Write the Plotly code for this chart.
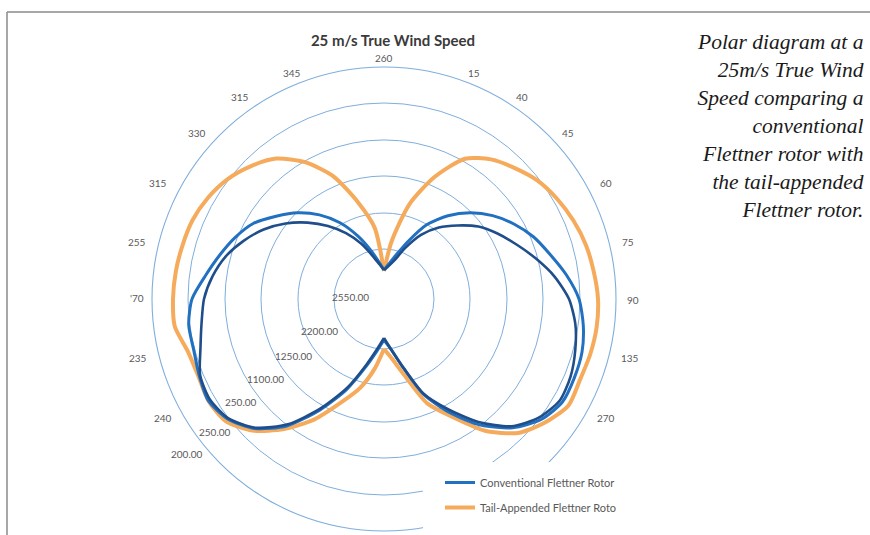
import math
import plotly.graph_objects as go

# ---- data ---------------------------------------------------------------
# compass angle of each sample (degrees, clockwise from north)
theta = [0, 7.5, 15, 22.5, 30, 37.5, 45, 52.5, 60, 67.5, 75, 82.5,
         90, 97.5, 105, 112.5, 120, 127.5, 135, 142.5, 150, 157.5, 165, 172.5,
         180, 187.5, 195, 202.5, 210, 217.5, 225, 232.5, 240, 247.5, 255, 262.5,
         270, 277.5, 285, 292.5, 300, 307.5, 315, 322.5, 330, 337.5, 345, 352.5]

tail_appended = [28, 58, 98, 132, 162, 176, 185, 194, 200, 205, 209, 211.5,
                 214, 214.5, 213.5, 212, 213, 203, 189.5, 166, 136, 113, 79, 60,
                 50, 70, 92, 112, 139, 164, 186, 200, 203, 201, 203, 211,
                 211, 210, 208.5, 207, 203, 197, 188, 177, 158, 133, 100, 72]

conventional = [29, 35, 45, 62, 86, 105, 122, 137, 150, 162, 172, 184,
                195, 201, 205, 206, 206, 198, 182, 159, 131, 103, 69, 50,
                41, 52, 70, 98, 128, 160, 183, 197, 203, 200, 197, 197,
                192, 180, 170, 161, 151, 136, 122, 106, 88, 68, 50, 37]

conventional_b = [29, 33, 40, 55, 74, 90, 104, 119, 131, 143, 157, 172,
                  185, 193, 198, 202, 203, 195, 180, 155, 127, 102, 69, 50,
                  39, 50, 68, 96, 126, 158, 182, 196, 201, 199, 190, 184,
                  180, 173, 164, 152, 139, 124, 108, 92, 76, 60, 45, 35]

grid_rings = [50, 86, 123, 159, 196]
radial_max = 232

radial_labels = ["2550.00", "2200.00", "1250.00", "1100.00", "250.00", "250.00", "200.00"]
angular_labels = ["260", "15", "40", "45", "60", "75", "90", "135", "270",
                  "345", "315", "330", "315", "255", "'70", "235", "240"]

series_names = ["Tail-Appended Flettner Roto", "Conventional Flettner Rotor"]

# label placement around the dial (radius in axis units, compass angle)
radial_label_r = [34, 72, 107, 143, 176, 215, 251]
radial_label_t = [273.4, 243.8, 237.9, 236.1, 234.2, 231.8, 231.8]
angular_label_r = [241, 243, 245, 248, 250.5, 250.5, 249, 253, 252,
                   244, 248, 250, 254, 253.5, 247, 253, 251]
angular_label_t = [0, 21.7, 34.3, 47.9, 62.4, 76.9, 90.2, 103.5, 118.2,
                   337.9, 324.5, 311.6, 297.2, 283.0, 270.2, 256.5, 241.7]


def halves(values):
    """Split a closed curve into its right (0-180) and left (180-360) halves,
    so the two cusps stay sharp when the halves are smoothed."""
    r = list(values) + [values[0]]
    t = list(theta) + [360]
    mid = theta.index(180)
    return (r[:mid + 1] + [None] + r[mid:],
            t[:mid + 1] + [None] + t[mid:])


ORANGE = "#F5AB5B"
BLUE = "#2270C0"
NAVY = "#1F4E8A"
GRID = "#7FAEDC"
LABEL = "#595959"

W, H = 870, 535
cx, cy = 384, 299  # dial centre in pixels

fig = go.Figure()

for vals, name, group, rank, show, color, width in [
    (tail_appended, series_names[0], "tail", 2, True, ORANGE, 4),
    (conventional, series_names[1], "conv", 1, True, BLUE, 3),
    (conventional_b, series_names[1], "conv", 1, False, NAVY, 2.6),
]:
    r, t = halves(vals)
    fig.add_trace(go.Scatterpolar(
        r=r, theta=t, mode="lines", name=name, legendgroup=group,
        legendrank=rank, showlegend=show, connectgaps=False,
        line=dict(color=color, width=width, shape="spline", smoothing=0.7),
        hoverinfo="skip"))


def dial_label(txt, rr, tt):
    # radial axis units map 1:1 to pixels (range 0..232 over a 232 px radius)
    px = cx + rr * math.sin(math.radians(tt))
    py = cy - rr * math.cos(math.radians(tt))
    return dict(text=txt, x=px / W, y=1 - py / H, xref="paper", yref="paper",
                showarrow=False, xanchor="center", yanchor="middle",
                font=dict(family="Lato, sans-serif", size=10, color=LABEL))


annotations = [dial_label(*a) for a in zip(radial_labels, radial_label_r, radial_label_t)]
annotations += [dial_label(*a) for a in zip(angular_labels, angular_label_r, angular_label_t)]

annotations.append(dict(
    text="<i>Polar diagram at a<br>25m/s True Wind<br>Speed comparing a<br>"
         "conventional<br>Flettner rotor with<br>the tail-appended<br>"
         "Flettner rotor.</i>",
    xref="paper", yref="paper", x=866 / W, xanchor="right",
    y=1 - 126 / H, yanchor="middle", align="right", showarrow=False,
    font=dict(family="Liberation Serif, serif", size=21.5, color="#1a1a1a")))

fig.update_layout(
    width=W, height=H,
    margin=dict(l=0, r=0, t=0, b=0),
    paper_bgcolor="white",
    plot_bgcolor="white",
    font=dict(family="Lato, sans-serif", color=LABEL),
    title=dict(text="<b>25 m/s True Wind Speed</b>", x=393 / W, xanchor="center",
               y=1 - 41 / H, yref="container", yanchor="middle",
               font=dict(family="Lato, sans-serif", size=15, color="#3a3a3a")),
    polar=dict(
        domain=dict(x=[(cx - radial_max) / W, (cx + radial_max) / W],
                    y=[1 - (cy + radial_max) / H, 1 - (cy - radial_max) / H]),
        bgcolor="rgba(0,0,0,0)",
        radialaxis=dict(range=[0, radial_max], tickvals=grid_rings,
                        showticklabels=False, ticks="", showline=False,
                        gridcolor=GRID, gridwidth=1.1),
        angularaxis=dict(rotation=90, direction="clockwise", showgrid=False,
                         showticklabels=False, ticks="", showline=True,
                         linecolor=GRID, linewidth=1.1),
    ),
    legend=dict(x=440 / W, xanchor="left", y=1 - 468 / H, yanchor="top",
                bgcolor="rgba(0,0,0,0)", traceorder="grouped", tracegroupgap=6,
                font=dict(family="Lato, sans-serif", size=11, color=LABEL)),
    shapes=[
        # blank panel behind the legend
        dict(type="rect", xref="paper", yref="paper", layer="above",
             x0=423 / W, x1=650 / W, y0=0, y1=1 - 462 / H,
             fillcolor="white", line=dict(width=0)),
        # page frame
        dict(type="line", xref="paper", yref="paper",
             x0=7 / W, x1=1, y0=1 - 12 / H, y1=1 - 12 / H,
             line=dict(color="#8a8a8a", width=1.5)),
        dict(type="line", xref="paper", yref="paper",
             x0=7 / W, x1=7 / W, y0=0, y1=1 - 12 / H,
             line=dict(color="#8a8a8a", width=1.5)),
    ],
    annotations=annotations,
)

fig.write_html("out.html")
